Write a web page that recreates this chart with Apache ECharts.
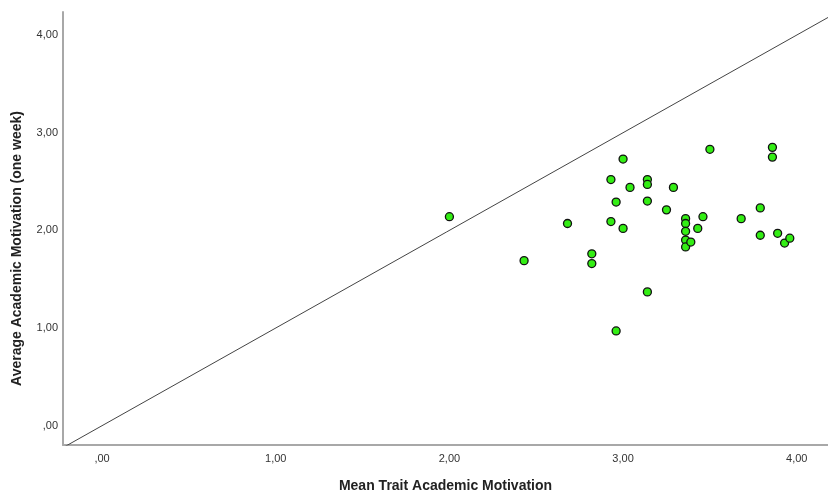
<!DOCTYPE html>
<html>
<head>
<meta charset="utf-8">
<script src="https://cdn.jsdelivr.net/npm/echarts@6/dist/echarts.min.js"></script>
<style>html,body{margin:0;padding:0;background:#fff}#c{width:828px;height:498px}</style>
</head>
<body>
<div id="c"></div>
<script>
// Mean Trait Academic Motivation (x)
var traitX = [2.00,2.43,2.68,2.82,2.82,2.93,2.93,2.96,2.96,3.00,3.00,3.04,3.14,3.14,3.14,3.14,3.25,3.29,3.36,3.36,3.36,3.36,3.36,3.39,3.43,3.46,3.50,3.68,3.79,3.79,3.86,3.86,3.89,3.93,3.96];
// Average Academic Motivation (one week) (y)
var weekY  = [2.14,1.69,2.07,1.76,1.66,2.52,2.09,2.29,0.97,2.73,2.02,2.44,2.52,2.47,2.30,1.37,2.21,2.44,2.12,2.07,1.99,1.90,1.83,1.88,2.02,2.14,2.83,2.12,2.23,1.95,2.85,2.75,1.97,1.87,1.92];
var tickValues = [0,1,2,3,4];
var refLine = [-1, 5]; // y = x reference line endpoints

var points = traitX.map(function(x,i){return [x, weekY[i]];});
function fmt(v){var s=v.toFixed(2).replace('.',',');return s.indexOf('0,')===0?s.slice(1):s;}
var font = '"Liberation Sans", Arial, sans-serif';

var chart = echarts.init(document.getElementById('c'), null, {renderer:'canvas'});
chart.setOption({
  animation:false,
  backgroundColor:'#ffffff',
  grid:{left:63,right:0,top:12,bottom:51,containLabel:false},
  xAxis:{
    type:'value', min:-0.225, max:4.18,
    name:'Mean Trait Academic Motivation', nameLocation:'middle', nameGap:34,
    nameTextStyle:{fontFamily:font,fontSize:14,fontWeight:'bold',color:'#222'},
    axisLine:{show:true,onZero:false,lineStyle:{color:'#a8a8a8',width:2}},
    axisTick:{show:false},
    splitLine:{show:false},
    axisLabel:{customValues:tickValues,formatter:fmt,fontFamily:font,fontSize:11,color:'#333',margin:8}
  },
  yAxis:{
    type:'value', min:-0.198, max:4.236,
    name:'Average Academic Motivation (one week)', nameLocation:'middle', nameGap:39,
    nameTextStyle:{fontFamily:font,fontSize:14,fontWeight:'bold',color:'#222',padding:[0,40,0,0]},
    axisLine:{show:true,onZero:false,lineStyle:{color:'#a8a8a8',width:2}},
    axisTick:{show:false},
    splitLine:{show:false},
    axisLabel:{customValues:tickValues,formatter:fmt,fontFamily:font,fontSize:11,color:'#333',margin:5}
  },
  series:[
    {type:'line', data:refLine.map(function(v){return [v,v];}), showSymbol:false, symbol:'none',
     lineStyle:{color:'#444',width:1}, clip:true, silent:true, z:1},
    {type:'scatter', data:points, symbol:'circle', symbolSize:8,
     itemStyle:{color:'#33ee14',borderColor:'#111',borderWidth:1.3,opacity:1}, z:3}
  ]
});
</script>
</body>
</html>
